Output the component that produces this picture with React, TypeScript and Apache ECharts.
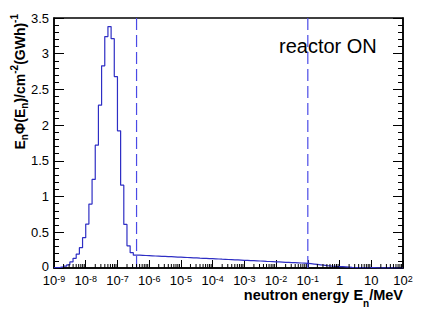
import React, { useEffect, useRef } from "react";
import * as echarts from "echarts";

// Histogram: 10 log bins per decade from 1e-9 MeV to 1e2 MeV
const logMin = -9;
const binsPerDecade = 10;
const binValues: number[] = [
  0.004, 0.008, 0.015, 0.025, 0.045, 0.085, 0.135, 0.195, 0.285, 0.425,
  0.615, 0.895, 1.24, 1.72, 2.28, 2.83, 3.24, 3.38, 3.21, 2.68,
  1.92, 1.16, 0.61, 0.31, 0.215, 0.18, 0.179, 0.177, 0.175, 0.173,
  0.171, 0.168, 0.166, 0.164, 0.162, 0.16, 0.158, 0.156, 0.153, 0.151,
  0.149, 0.147, 0.145, 0.143, 0.141, 0.138, 0.136, 0.134, 0.132, 0.13,
  0.128, 0.126, 0.123, 0.121, 0.119, 0.117, 0.115, 0.113, 0.111, 0.108,
  0.106, 0.104, 0.102, 0.1, 0.098, 0.096, 0.093, 0.091, 0.089, 0.087,
  0.085, 0.083, 0.08, 0.078, 0.076, 0.074, 0.072, 0.07, 0.068, 0.065,
  0.06, 0.055, 0.05, 0.045, 0.04, 0.034, 0.029, 0.025, 0.022, 0.02,
  0.018, 0.016, 0.013, 0.009, 0.006, 0.005, 0.005, 0.005, 0.004, 0.004,
  0.004, 0.003, 0.003, 0.002, 0.002, 0.001, 0.001, 0.001, 0.0, 0.0,
];

const cutLines = [4e-7, 0.1];
const xDecades = [-9, -8, -7, -6, -5, -4, -3, -2, -1, 0, 1, 2];
const xTickLabels: Record<number, string> = {
  [-9]: "{b|10}{s|-9}",
  [-8]: "{b|10}{s|-8}",
  [-7]: "{b|10}{s|-7}",
  [-6]: "{b|10}{s|-6}",
  [-5]: "{b|10}{s|-5}",
  [-4]: "{b|10}{s|-4}",
  [-3]: "{b|10}{s|-3}",
  [-2]: "{b|10}{s|-2}",
  [-1]: "{b|10}{s|-1}",
  0: "{b|1}",
  1: "{b|10}",
  2: "{b|10}{s|2}",
};
const annotation = "reactor ON";
type Piece = { t: string; k: "m" | "sub" | "sup" };
const xTitle: Piece[] = [
  { t: "neutron energy E", k: "m" },
  { t: "n", k: "sub" },
  { t: "/MeV", k: "m" },
];
const yTitle: Piece[] = [
  { t: "E", k: "m" },
  { t: "n", k: "sub" },
  { t: "Φ(E", k: "m" },
  { t: "n", k: "sub" },
  { t: ")/cm", k: "m" },
  { t: "-2", k: "sup" },
  { t: "(GWh)", k: "m" },
  { t: "-1", k: "sup" },
];

const FAMILY = "Liberation Sans";
const FONT = '"Liberation Sans", Arial, Helvetica, sans-serif';

function measure(text: string, size: number, bold: boolean) {
  const c = document.createElement("canvas").getContext("2d")!;
  c.font = `${bold ? "bold " : ""}${size}px "${FAMILY}"`;
  return c.measureText(text).width;
}

function buildPieces(
  pieces: Piece[],
  mainSize: number,
  smallSize: number,
  subOff: number,
  supOff: number,
  startX: number
) {
  let x = startX;
  return pieces.map((p) => {
    const size = p.k === "m" ? mainSize : smallSize;
    const w = measure(p.t, size, true);
    const el = {
      type: "text",
      x,
      y: p.k === "sub" ? subOff : p.k === "sup" ? supOff : 0,
      style: {
        text: p.t,
        fill: "#000",
        fontSize: size,
        fontWeight: "bold",
        fontFamily: FONT,
        align: "left",
        verticalAlign: "middle",
        lineHeight: size,
      },
    };
    x += w;
    return el;
  });
}

function totalWidth(pieces: Piece[], mainSize: number, smallSize: number) {
  return pieces.reduce(
    (s, p) => s + measure(p.t, p.k === "m" ? mainSize : smallSize, true),
    0
  );
}

export default function App() {
  const ref = useRef<HTMLDivElement>(null);
  useEffect(() => {
    if (!ref.current) return;
    const chart = echarts.init(ref.current, null, { renderer: "svg" });

    const edge = (k: number) => Math.pow(10, logMin + k / binsPerDecade);
    const histPoints: number[][] = binValues.map((v, k) => [edge(k), v]);
    histPoints.push([edge(binValues.length), binValues[binValues.length - 1]]);

    const minorTicks: number[][] = [];
    for (let i = 0; i < xDecades.length - 1; i++) {
      for (let m = 2; m <= 9; m++) minorTicks.push([m * Math.pow(10, xDecades[i]), 0]);
    }

    const axisY = (showLabel: boolean, pos: "left" | "right") => ({
      type: "value",
      position: pos,
      min: 0,
      max: 3.5,
      interval: 0.5,
      axisLine: { show: true, lineStyle: { color: "#000", width: 1.5 } },
      axisTick: { show: true, inside: true, length: 10, lineStyle: { color: "#000", width: 1 } },
      minorTick: { show: true, splitNumber: 5, length: 5, lineStyle: { color: "#000", width: 1 } },
      splitLine: { show: false },
      axisLabel: {
        show: showLabel,
        color: "#000",
        fontSize: 13,
        fontFamily: FONT,
        margin: 5,
        formatter: (v: number) => (v === 0 ? "{z|0}" : String(v)),
        rich: {
          z: { fontSize: 13, fontFamily: FONT, color: "#000", padding: [0, 0, 3, 0] },
        },
      },
    });

    const xW = totalWidth(xTitle, 14.5, 10);
    const yW = totalWidth(yTitle, 14, 10);

    const option: any = {
      animation: false,
      backgroundColor: "#fff",
      textStyle: { fontFamily: FONT },
      grid: {
        left: 54,
        top: 18,
        right: 33,
        bottom: 47,
        show: true,
        borderColor: "#000",
        borderWidth: 1.5,
        backgroundColor: "transparent",
      },
      xAxis: {
        type: "log",
        logBase: 10,
        min: 1e-9,
        max: 1e2,
        interval: 1,
        splitNumber: 11,
        axisLine: { show: true, onZero: false, lineStyle: { color: "#000", width: 1.5 } },
        axisTick: { show: true, inside: true, length: 8, lineStyle: { color: "#000", width: 1 } },
        splitLine: { show: false },
        axisLabel: {
          show: true,
          margin: 6,
          showMinLabel: true,
          showMaxLabel: true,
          color: "#000",
          formatter: (v: number) => {
            const e = Math.round(Math.log10(v));
            return xTickLabels[e] ?? "";
          },
          rich: {
            b: { fontSize: 13, lineHeight: 13, verticalAlign: "middle", fontFamily: FONT, color: "#000" },
            s: { fontSize: 9, lineHeight: 4, verticalAlign: "top", fontFamily: FONT, color: "#000" },
          },
        },
      },
      yAxis: [axisY(true, "left"), axisY(false, "right")],
      series: [
        {
          type: "line",
          data: histPoints,
          step: "end",
          symbol: "none",
          showSymbol: false,
          lineStyle: { color: "#2e2ec4", width: 1.2 },
          z: 3,
        },
        ...cutLines.map((c) => ({
          type: "line",
          data: [
            [c, 0],
            [c, 3.5],
          ],
          symbol: "none",
          showSymbol: false,
          silent: true,
          lineStyle: { color: "#4a4ae6", type: [12, 5], width: 1.2 },
          z: 2,
        })),
        {
          type: "custom",
          data: minorTicks,
          silent: true,
          clip: false,
          z: 5,
          renderItem: (_params: any, api: any) => {
            const p = api.coord([api.value(0), 0]);
            return {
              type: "line",
              shape: { x1: p[0], y1: p[1], x2: p[0], y2: p[1] - 4 },
              style: { stroke: "#000", lineWidth: 1 },
            };
          },
        },
      ],
      graphic: [
        {
          type: "text",
          x: 279,
          y: 46,
          style: {
            text: annotation,
            fill: "#000",
            fontSize: 20,
            fontFamily: FONT,
            verticalAlign: "middle",
            align: "left",
          },
        },
        {
          type: "group",
          x: 403 - xW,
          y: 295,
          children: buildPieces(xTitle, 14.5, 10, 8, -6, 0),
        },
        {
          type: "group",
          x: 20,
          y: 14,
          rotation: Math.PI / 2,
          children: buildPieces(yTitle, 14, 10, 4, -6, -yW),
        },
      ],
    };

    chart.setOption(option);
    return () => chart.dispose();
  }, []);

  return (
    <div
      ref={ref}
      style={{ position: "fixed", left: 0, top: 0, width: 436, height: 315, background: "#fff" }}
    />
  );
}
